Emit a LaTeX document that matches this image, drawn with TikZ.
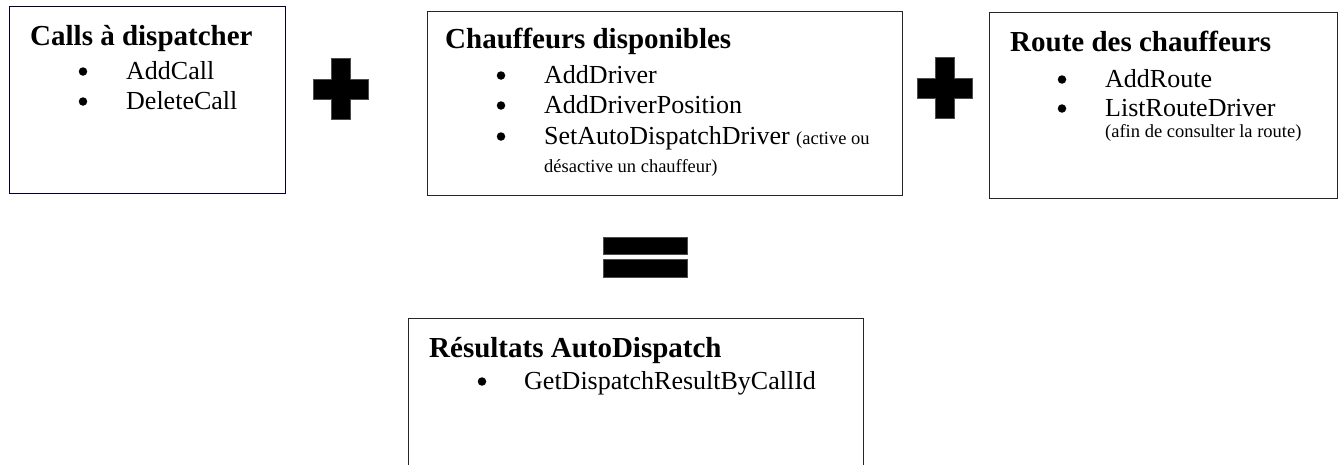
\documentclass[tikz,border=0pt]{standalone}
\usepackage{fontspec}
\setmainfont{Liberation Serif}
\begin{document}
\begin{tikzpicture}[x=1pt,y=-1pt,
  box/.style={draw=black!85, line width=1pt, inner sep=0pt, anchor=north west},
  ttl/.style={anchor=base west, inner sep=0pt, font=\fontsize{29}{33}\selectfont\bfseries},
  itm/.style={anchor=base west, inner sep=0pt, font=\fontsize{26}{30}\selectfont},
  sml/.style={anchor=base west, inner sep=0pt, font=\fontsize{18.5}{21}\selectfont},
  dot/.style={circle, fill=black, inner sep=0pt, minimum size=8.5pt},
  sym/.style={fill=black, draw=black!70, line width=0.5pt}]
\useasboundingbox (0,0) rectangle (1339,464);

% Box 1
\node[box, draw=black!80!blue, minimum width=276pt, minimum height=187pt] (b1) at (9,6) {};
\node[ttl] (t1) at (30,45) {Calls à dispatcher};
\node[dot] (d11) at (83,71.5) {};
\node[itm] (i11) at (126,79) {AddCall};
\node[dot] (d12) at (83,101.5) {};
\node[itm] (i12) at (126,109) {DeleteCall};

% Plus 1
\fill[sym] (331,58) -- (350,58) -- (350,79) -- (368,79) -- (368,99) -- (350,99)
  -- (350,119) -- (331,119) -- (331,99) -- (313,99) -- (313,79) -- (331,79) -- cycle;

% Box 2
\node[box, minimum width=475pt, minimum height=184pt] (b2) at (427,11) {};
\node[ttl] (t2) at (445,48) {Chauffeurs disponibles};
\node[dot] (d21) at (501,75.5) {};
\node[itm] (i21) at (544,83) {AddDriver};
\node[dot] (d22) at (501,105.5) {};
\node[itm] (i22) at (544,113) {AddDriverPosition};
\node[dot] (d23) at (501,136.5) {};
\node[itm] (i23) at (544,144) {SetAutoDispatchDriver \fontsize{18.5}{21}\selectfont(active ou};
\node[sml] (i24) at (544,172) {désactive un chauffeur)};

% Plus 2
\fill[sym] (935,57) -- (954,57) -- (954,78) -- (972,78) -- (972,98) -- (954,98)
  -- (954,118) -- (935,118) -- (935,98) -- (917,98) -- (917,78) -- (935,78) -- cycle;

% Box 3
\node[box, minimum width=348pt, minimum height=186pt] (b3) at (989,12) {};
\node[ttl] (t3) at (1010,51) {Route des chauffeurs};
\node[dot] (d31) at (1062,79.5) {};
\node[itm] (i31) at (1105,87) {AddRoute};
\node[dot] (d32) at (1062,108.5) {};
\node[itm] (i32) at (1105,116) {ListRouteDriver};
\node[sml] (i33) at (1105,137) {(afin de consulter la route)};

% Equals
\fill[sym] (603,237) rectangle (687,254);
\fill[sym] (603,259) rectangle (687,277);

% Box 4 (bottom edge outside the picture)
\coordinate (b4bl) at (408,466);
\coordinate (b4tl) at (408,318);
\coordinate (b4tr) at (863,318);
\coordinate (b4br) at (863,466);
\draw[draw=black!85, line width=1pt] (b4bl) -- (b4tl) -- (b4tr) -- (b4br);
\node[ttl] (t4) at (429,357) {Résultats AutoDispatch};
\node[dot] (d41) at (482,381.5) {};
\node[itm] (i41) at (524,389) {GetDispatchResultByCallId};
\end{tikzpicture}
\end{document}
